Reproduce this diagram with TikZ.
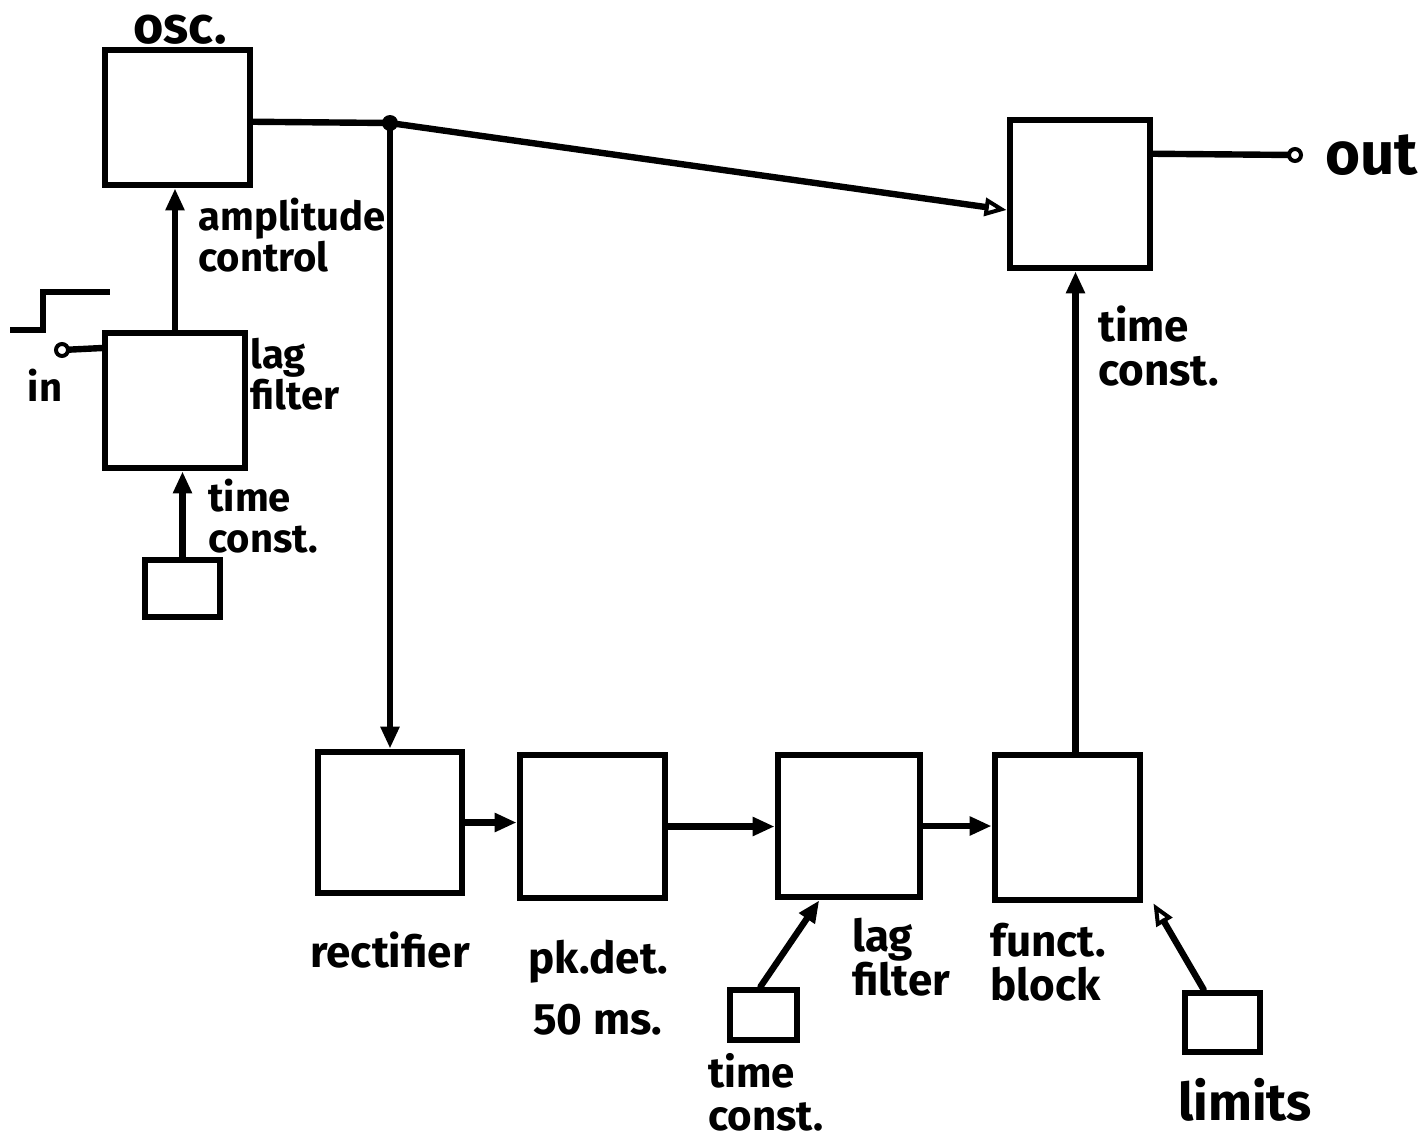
\documentclass[tikz,border=0pt]{standalone}
\usepackage{fontspec}
\setmainfont{Fira Sans}
\usetikzlibrary{arrows.meta,calc}
\tikzset{
  blk/.style={draw,line width=3.4pt,inner sep=0pt,fill=white},
  wire/.style={line width=3.2pt,line cap=round},
  tipf/.style={-{Triangle[length=11pt,width=9pt]}},
  tipo/.style={-{Triangle[open,length=11pt,width=9pt,line width=2pt]}},
  lbl/.style={inner sep=0pt,font=\fontsize{20}{20.5}\selectfont\bfseries},
  lblb/.style={inner sep=0pt,font=\fontsize{22}{22}\selectfont\bfseries},
}
\begin{document}
\begin{tikzpicture}[x=0.5pt,y=-0.5pt]
\useasboundingbox[fill=white] (0,0) rectangle (1426,1147);
% blocks
\node[blk,minimum width=72.5pt,minimum height=67.5pt] (osc) at (177.5,117.5) {};
\node[blk,minimum width=70pt,minimum height=67.5pt] (lagL) at (175,400.5) {};
\node[blk,minimum width=37.5pt,minimum height=28.5pt] (tcL) at (182.5,588.5) {};
\node[blk,minimum width=70pt,minimum height=74pt] (outbox) at (1080,194) {};
\node[blk,minimum width=72pt,minimum height=70.5pt] (rect) at (390,822.5) {};
\node[blk,minimum width=72.5pt,minimum height=71.5pt] (pk) at (592.5,826.5) {};
\node[blk,minimum width=71pt,minimum height=71pt] (lag) at (849,826) {};
\node[blk,minimum width=72.5pt,minimum height=72.5pt] (funct) at (1067.5,827.5) {};
\node[blk,minimum width=33.5pt,minimum height=25pt] (tcB) at (763.5,1015) {};
\node[blk,minimum width=37.5pt,minimum height=29.5pt] (lim) at (1222.5,1022.5) {};
% terminals and junction
\coordinate (J) at (390,123);
\coordinate (inT) at (62,350);
\coordinate (outT) at (1295,155);
\coordinate (fn) at ($(funct.north)+(8,0)$);
\coordinate (oscE) at ($(osc.north east)!0.53!(osc.south east)$);
% connectors
\draw[wire] (oscE) -- (J);
\draw[wire,tipo] (J) -- ($(outbox.west)+(0,16)$);
\draw[wire,tipf] (J) -- (rect.north);
\draw[wire] ($(outbox.north east)!0.24!(outbox.south east)$) -- (outT);
\draw[wire] (inT) -- ($(lagL.north west)!0.13!(lagL.south west)$);
\draw[wire,tipf] (lagL.north) -- (lagL.north |- osc.south);
\draw[wire,tipf] (tcL.north) -- (tcL.north |- lagL.south);
\draw[wire,tipf] (rect.east) -- (rect.east -| pk.west);
\draw[wire,tipf] (pk.east) -- (pk.east -| lag.west);
\draw[wire,tipf] (lag.east) -- (lag.east -| funct.west);
\draw[wire,tipf] (fn) -- (fn |- outbox.south);
\draw[wire,tipf] ($(tcB.north)+(-3,0)$) -- ($(lag.south west)!0.3!(lag.south east)$);
\draw[wire,tipo] ($(lim.north west)!0.27!(lim.north east)$) -- ($(funct.south east)+(10,0)$);
\fill (J) circle (4pt);
\draw[line width=2pt,fill=white] (inT) circle (3pt);
\draw[line width=2pt,fill=white] (outT) circle (3pt);
% step symbol
\draw[wire,line cap=butt] (10,330) -- (43,330) -- (43,292) -- (110,292);
% labels
\node[inner sep=0pt,font=\fontsize{26}{26}\selectfont\bfseries] (tosc) at (180,30) {osc.};
\node[lbl,align=left,anchor=west] (tamp) at (198,235) {amplitude\\control};
\node[lbl,align=left,anchor=west] (tlagL) at (250,374) {lag\\filter};
\node[lbl] (tin) at (45,385) {in};
\node[lbl,align=left,anchor=west] (ttcL) at (208,516) {time\\const.};
\node[lblb,align=left,anchor=west] (ttcR) at (1098,346) {time\\const.};
\node[inner sep=0pt,anchor=west,font=\fontsize{30}{30}\selectfont\bfseries] (tout) at (1325,155) {out};
\node[lblb] (trect) at (390,950) {rectifier};
\node[lblb,anchor=west] (tpk) at (528,962) {pk.det.};
\node[lblb,anchor=west] (tms) at (533,1020) {50 ms.};
\node[lblb,align=left,anchor=west] (tlag) at (852,957) {lag\\filter};
\node[lblb,align=left,anchor=west] (tfun) at (990,962) {funct.\\block};
\node[lblb,align=left,anchor=west,font=\fontsize{21}{21.5}\selectfont\bfseries] (ttcB) at (708,1092) {time\\const.};
\node[inner sep=0pt,font=\fontsize{26}{26}\selectfont\bfseries] (tlim) at (1245,1100) {limits};
\end{tikzpicture}
\end{document}
